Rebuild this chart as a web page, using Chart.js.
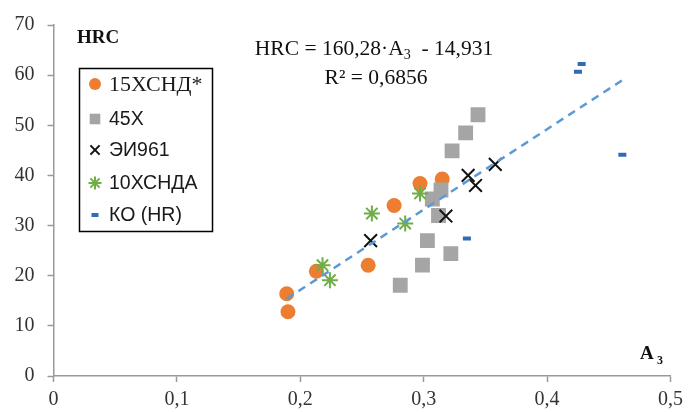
<!DOCTYPE html>
<html>
<head>
<meta charset="utf-8">
<script src="https://cdn.jsdelivr.net/npm/chart.js@4/dist/chart.umd.min.js"></script>
<style>
  html, body { margin: 0; padding: 0; background: #fff; }
</style>
</head>
<body>
<canvas id="myChart" width="689" height="412"></canvas>
<script>
// values
const hsndX = [0.189, 0.190, 0.213, 0.255, 0.276, 0.297, 0.315];
const hsndY = [16.4, 12.8, 20.9, 22.1, 34.0, 38.4, 39.3];

const x45X = [0.344, 0.334, 0.323, 0.314, 0.307, 0.312, 0.303, 0.322, 0.299, 0.281];
const x45Y = [52.1, 48.5, 44.9, 37.1, 35.3, 32.0, 27.0, 24.4, 22.1, 18.1];

const ei961X = [0.257, 0.318, 0.336, 0.342, 0.358];
const ei961Y = [27.0, 31.9, 40.0, 38.0, 42.2];

const hsndaX = [0.218, 0.224, 0.258, 0.285, 0.297];
const hsndaY = [22.1, 19.1, 32.4, 30.4, 36.4];

const koX = [0.335, 0.425, 0.428, 0.461];
const koY = [27.4, 60.7, 62.2, 44.1];

const trendX = [0.189, 0.461];
const trendY = [15.4, 59.0];

const seriesNames = ['15ХСНД*', '45Х', 'ЭИ961', '10ХСНДА', 'КО (HR)'];
const xTicks = [0, 0.1, 0.2, 0.3, 0.4, 0.5];
const yTicks = [0, 10, 20, 30, 40, 50, 60, 70];

function pts(xs, ys) {
    return xs.map((x, i) => ({x: x, y: ys[i]}));
}

const axisColor = '#999';
const serif = '"Liberation Serif", "Times New Roman", serif';
const sans = '"Liberation Sans", Arial, sans-serif';

const datasets = [
    {label: seriesNames[0], data: pts(hsndX, hsndY), pointStyle: 'circle', pointRadius: 7.5,
     backgroundColor: '#ED7D31', borderColor: '#ED7D31', borderWidth: 0, order: 5},
    {label: seriesNames[1], data: pts(x45X, x45Y), pointStyle: 'rect', pointRadius: 10.5,
     backgroundColor: '#A5A5A5', borderColor: '#A5A5A5', borderWidth: 0, order: 4},
    {label: seriesNames[2], data: pts(ei961X, ei961Y), pointStyle: 'crossRot', pointRadius: 9,
     backgroundColor: '#111', borderColor: '#111', borderWidth: 2, order: 3},
    {label: seriesNames[3], data: pts(hsndaX, hsndaY), pointStyle: 'star', pointRadius: 8,
     backgroundColor: '#70AD47', borderColor: '#70AD47', borderWidth: 2, order: 2},
    {label: seriesNames[4], data: pts(koX, koY), pointStyle: 'line', pointRadius: 4,
     backgroundColor: '#2E6DB4', borderColor: '#2E6DB4', borderWidth: 4, order: 1},
    {label: 'trend', data: pts(trendX, trendY), showLine: true, pointRadius: 0,
     borderColor: '#5B9BD5', borderWidth: 2.5, borderDash: [8, 6], fill: false, order: 0}
];

// legend box, equation and axis titles
const extras = {
    id: 'extras',
    afterDraw(chart) {
        const c = chart.ctx;
        c.save();
        // legend
        c.strokeStyle = '#000';
        c.lineWidth = 1.5;
        c.strokeRect(79.5, 68.5, 133, 163);
        const rows = [84, 119, 150, 183, 215];
        const sizes = [6, 7.5, 6.5, 6.5, 3.5];
        rows.forEach((yy, i) => {
            const ds = chart.data.datasets[i];
            c.fillStyle = ds.backgroundColor;
            c.strokeStyle = ds.borderColor;
            c.lineWidth = ds.borderWidth || 1;
            Chart.helpers.drawPoint(c, {pointStyle: ds.pointStyle, radius: sizes[i], rotation: 0,
                borderWidth: ds.borderWidth}, 95, yy);
            c.fillStyle = '#1a1a1a';
            c.textBaseline = 'middle';
            c.textAlign = 'left';
            c.font = i === 0 ? '22px ' + serif : '19.5px ' + sans;
            c.fillText(seriesNames[i], 109, yy + 1);
        });
        // HRC label
        c.fillStyle = '#111';
        c.font = 'bold 19px ' + serif;
        c.textBaseline = 'middle';
        c.fillText('HRC', 77, 38);
        // A3 label
        c.font = 'bold 19px ' + serif;
        c.fillText('A', 640, 354);
        c.font = 'bold 12px ' + serif;
        c.fillText('3', 657, 361);
        // equation
        const p1 = 'HRC = 160,28·A', p2 = '3', p3 = '  - 14,931';
        const f1 = '21.5px ' + serif, f2 = '14px ' + serif;
        c.font = f1; const w1 = c.measureText(p1).width, w3 = c.measureText(p3).width;
        c.font = f2; const w2 = c.measureText(p2).width;
        let sx = 374 - (w1 + w2 + w3) / 2;
        c.fillStyle = '#111';
        c.font = f1; c.fillText(p1, sx, 49);
        c.font = f2; c.fillText(p2, sx + w1, 55);
        c.font = f1; c.fillText(p3, sx + w1 + w2, 49);
        c.textAlign = 'center';
        c.fillText('R² = 0,6856', 376, 78);
        c.restore();
    }
};

const ctx = document.getElementById('myChart').getContext('2d');

const myChart = new Chart(ctx, {
    type: 'scatter',
    data: {datasets: datasets},
    options: {
        responsive: false,
        animation: false,
        layout: {padding: {top: 24, right: 16.5, left: 0, bottom: 0}},
        plugins: {legend: {display: false}, tooltip: {enabled: false}},
        scales: {
            x: {
                type: 'linear', min: 0, max: 0.5,
                afterBuildTicks: (s) => { s.ticks = xTicks.map(v => ({value: v})); },
                afterFit: (s) => { s.height = 36; },
                grid: {drawOnChartArea: false, drawTicks: true, tickLength: 6, tickColor: axisColor, tickWidth: 1.5},
                border: {color: axisColor, width: 1.5},
                ticks: {
                    padding: 6,
                    color: '#333',
                    font: {family: serif, size: 20},
                    callback: (v) => v === 0 ? '0' : String(Math.round(v * 10) / 10).replace('.', ',')
                }
            },
            y: {
                min: 0, max: 70,
                afterBuildTicks: (s) => { s.ticks = yTicks.map(v => ({value: v})); },
                afterFit: (s) => { s.width = 53.5; },
                grid: {drawOnChartArea: false, drawTicks: true, tickLength: 6, tickColor: axisColor, tickWidth: 1.5},
                border: {color: axisColor, width: 1.5},
                ticks: {
                    padding: 13,
                    color: '#333',
                    font: {family: serif, size: 20}
                }
            }
        }
    },
    plugins: [extras]
});
</script>
</body>
</html>
